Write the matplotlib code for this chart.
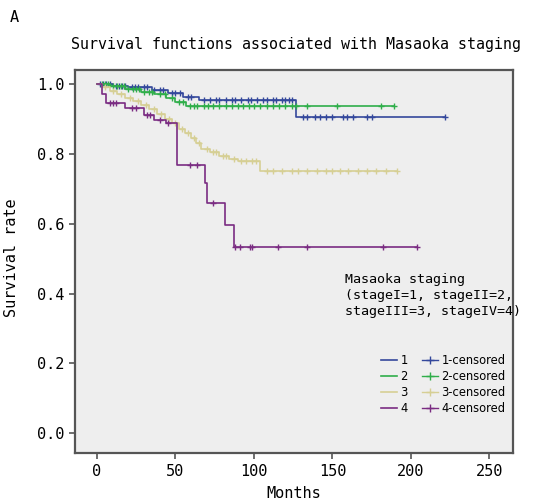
import numpy as np
import matplotlib
matplotlib.use("Agg")
import matplotlib.pyplot as plt
from matplotlib.lines import Line2D

plt.rcParams['font.family'] = ['DejaVu Sans Mono']

# Kaplan-Meier step data per Masaoka stage (months, survival after event)
t1 = [0, 10, 20, 35, 45, 55, 65, 127]
s1 = [1.0, 0.995, 0.99, 0.983, 0.975, 0.963, 0.954, 0.906]
c1 = [2, 4, 6, 8, 12, 14, 16, 18, 22, 24, 26, 30, 32, 36, 40, 42, 48, 50, 53, 58, 60,
      68, 72, 76, 78, 82, 86, 88, 92, 96, 98, 102, 106, 108, 112, 114, 118, 120, 122, 124,
      131, 134, 139, 142, 146, 150, 157, 159, 163, 172, 175, 222]

t2 = [0, 8, 18, 28, 36, 44, 50, 57]
s2 = [1.0, 0.993, 0.985, 0.978, 0.97, 0.96, 0.948, 0.937]
c2 = [3, 5, 7, 10, 13, 15, 17, 20, 23, 25, 27, 30, 33, 35, 40, 43, 48, 52, 55, 59, 62, 64,
      68, 71, 74, 78, 82, 86, 90, 93, 97, 100, 104, 108, 112, 116, 120, 124, 127,
      134, 153, 181, 189]

t3 = [0, 3, 8, 13, 18, 23, 28, 33, 38, 43, 48, 52, 56, 60, 63, 66, 72, 78, 84, 90, 104]
s3 = [1.0, 0.99, 0.98, 0.97, 0.96, 0.95, 0.94, 0.928, 0.915, 0.9, 0.888, 0.872, 0.86,
      0.845, 0.83, 0.815, 0.805, 0.795, 0.785, 0.78, 0.752]
c3 = [5, 10, 15, 21, 26, 31, 36, 41, 46, 50, 54, 58, 62, 65, 70, 74, 76, 80, 82, 87, 92,
      95, 99, 101, 108, 112, 118, 124, 128, 134, 140, 146, 150, 155, 160, 166, 172, 178,
      184, 191]

t4 = [0, 3, 6, 18, 30, 36, 44, 51, 69, 70, 81.5, 87]
s4 = [1.0, 0.97, 0.945, 0.93, 0.91, 0.897, 0.888, 0.768, 0.716, 0.659, 0.596, 0.533]
c4 = [8, 10, 12, 22, 25, 32, 34, 40, 45, 59, 64, 74, 88, 91, 97.5, 99, 115, 134, 182, 204]

groups = ['1', '2', '3', '4']
colors = ['#34489c', '#2fae4a', '#d6cf94', '#7a2c82']

fig = plt.figure(figsize=(5.36, 5.03), dpi=100)
ax = fig.add_axes([0.140, 0.099, 0.817, 0.762])
ax.set_facecolor('#eeeeee')

for t, s, c, col in zip([t1, t2, t3, t4], [s1, s2, s3, s4], [c1, c2, c3, c4], colors):
    t = np.array(t, dtype=float)
    s = np.array(s)
    c = np.array(c, dtype=float)
    tend = max(t.max(), c.max())
    ax.step(np.append(t, tend), np.append(s, s[-1]), where='post', color=col, lw=1.2)
    cs = s[np.searchsorted(t, c, side='right') - 1]
    ax.plot(c, cs, '+', color=col, ms=5, mew=1.0, ls='none')

ax.set_xlim(-14, 265)
ax.set_ylim(-0.057, 1.04)
ax.set_xticks([0, 50, 100, 150, 200, 250])
ax.set_yticks([0.0, 0.2, 0.4, 0.6, 0.8, 1.0])
ax.set_yticklabels(['0.0', '0.2', '0.4', '0.6', '0.8', '1.0'])
ax.tick_params(labelsize=11, length=4, width=1.2, color='#555555', direction='out')
for sp in ax.spines.values():
    sp.set_color('#555555')
    sp.set_linewidth(1.6)

fig.text(10 / 536, 1 - 17 / 503, 'A', fontsize=11, va='center')
fig.text(0.552, 1 - 45 / 503, 'Survival functions associated with Masaoka staging',
         ha='center', va='center', fontsize=10.8)
fig.text(12 / 536, 0.487, 'Survival rate', rotation=90, ha='center', va='center', fontsize=11)
fig.text(294 / 536, 0.003, 'Months', ha='center', va='bottom', fontsize=11)

ax.text(0.616, 0.47, 'Masaoka staging\n(stageI=1, stageII=2,\nstageIII=3, stageIV=4)',
        transform=ax.transAxes, ha='left', va='top', fontsize=9.6, linespacing=1.3)

handles = [Line2D([], [], color=col, lw=1.2) for col in colors]
handles += [Line2D([], [], color=col, lw=1.0, marker='+', ms=6) for col in colors]
labels = groups + [g + '-censored' for g in groups]
ax.legend(handles, labels, ncol=2, loc='upper left', bbox_to_anchor=(0.68, 0.28),
          frameon=False, handlelength=1.4, handletextpad=0.3,
          columnspacing=1.2, labelspacing=0.25, borderpad=0.2,
          prop={'family': 'DejaVu Sans Condensed', 'size': 8.3})

fig.savefig('out.png', dpi=100)
